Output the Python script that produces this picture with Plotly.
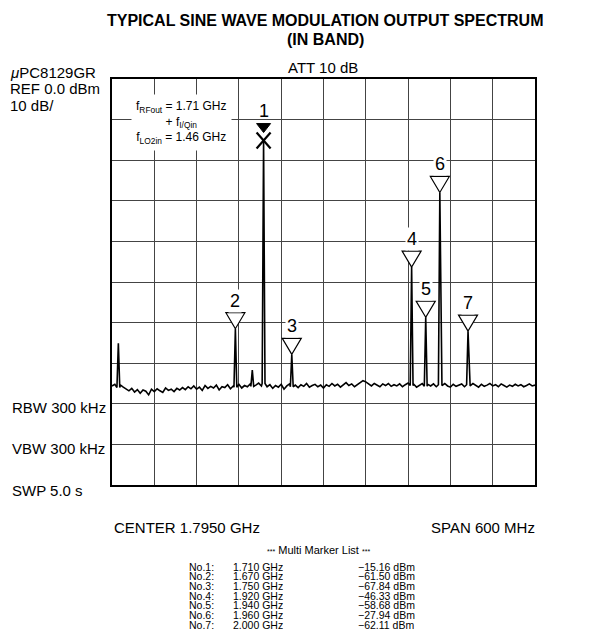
import plotly.graph_objects as go

# ---------------- data ----------------
center_ghz = 1.795
span_ghz = 0.600
ref_dbm = 0.0
db_per_div = 10.0

marker_ids = [1, 2, 3, 4, 5, 6, 7]
marker_freq = [1.710, 1.670, 1.750, 1.920, 1.940, 1.960, 2.000]
marker_level = [-15.16, -61.50, -67.84, -46.33, -58.68, -27.94, -62.11]

extra_peak_freq = [1.504, 1.694]
extra_peak_level = [-65.1, -71.7]

sweep_start = 1.495
sweep_step = 0.004
noise_level = [
    -75.6, -75.2, -76.0, -75.4, -75.9, -76.3,
    -76.8, -76.2, -77.1, -76.5, -77.4, -76.6, -76.9, -77.8, -76.4, -77.0,
    -76.3, -76.8, -77.2, -76.1, -76.7, -76.4, -77.0, -76.2, -76.6,
    -76.0, -76.5, -75.8, -76.3, -75.6, -76.4, -75.9, -76.7, -75.5, -76.2,
    -75.7, -76.1, -75.4, -76.6, -75.8, -76.0, -75.3, -76.3, -75.6, -75.9,
    -75.2, -76.1, -75.5, -75.8, -75.1, -75.7,
    -75.4, -74.9, -75.6, -75.0, -75.8, -75.3, -76.2, -75.5, -75.9, -75.2,
    -76.4, -75.6, -75.1, -75.8, -75.4, -76.0, -75.3, -75.7, -75.0, -75.9,
    -75.5, -75.2, -75.8, -75.4, -76.1,
    -75.3, -75.7, -75.0, -75.6, -75.2, -75.9, -75.4, -74.8, -75.5, -75.1,
    -75.8, -75.3, -74.9, -74.3, -74.6, -75.2, -75.6, -75.0, -75.4, -75.8,
    -75.1, -75.5, -75.0, -75.7, -75.3,
    -75.6, -75.1, -75.8, -75.3, -74.9, -75.5, -75.2, -75.9, -75.4, -75.0,
    -75.7, -75.2, -75.6, -75.1, -75.8, -75.3, -75.5, -75.0, -75.6, -75.9,
    -75.2, -75.7, -75.4, -75.1, -75.8,
    -75.3, -75.6, -75.0, -75.5, -75.9, -75.2, -75.7, -75.4, -75.0, -75.6,
    -75.3, -75.8, -75.1, -75.5, -75.9, -75.4, -75.7, -75.2, -75.6, -75.3,
    -75.8, -75.5, -75.1, -75.6, -75.4,
]

list_freq_text = ["1.710 GHz", "1.670 GHz", "1.750 GHz", "1.920 GHz",
                  "1.940 GHz", "1.960 GHz", "2.000 GHz"]
list_level_text = ["\u221215.16 dBm", "\u221261.50 dBm", "\u221267.84 dBm",
                   "\u221246.33 dBm", "\u221258.68 dBm", "\u221227.94 dBm",
                   "\u221262.11 dBm"]

# ---------------- geometry ----------------
W, H = 610, 629
L, R, T, B = 112, 535, 79, 485
x0 = center_ghz - span_ghz / 2
x1 = center_ghz + span_ghz / 2
y1 = ref_dbm
y0 = ref_dbm - 10 * db_per_div

def dxp(px):
    return px / (R - L) * (x1 - x0)

def dyp(px):
    return px / (B - T) * (y1 - y0)

def xp(px):
    return (px - L) / (R - L)

def yp(py):
    return (B - py) / (B - T)

FONT = "Arial, Liberation Sans, Helvetica, sans-serif"

# ---------------- build trace ----------------
peaks = list(zip(marker_freq, marker_level)) + list(zip(extra_peak_freq, extra_peak_level))
half = 0.002
pts = []
for i, lv in enumerate(noise_level):
    f = sweep_start + i * sweep_step
    if all(abs(f - pf) > half + 0.0005 for pf, _ in peaks):
        pts.append((f, lv))
for pf, pl in peaks:
    idx = int(round((pf - sweep_start) / sweep_step))
    idx = max(0, min(len(noise_level) - 1, idx))
    base = noise_level[idx]
    pts.append((pf - half, base))
    pts.append((pf, pl))
    pts.append((pf + half, base))
pts.sort(key=lambda p: p[0])
tx = [p[0] for p in pts]
ty = [p[1] for p in pts]

fig = go.Figure()
fig.add_trace(go.Scatter(x=tx, y=ty, mode="lines",
                         line=dict(color="black", width=1.6),
                         hoverinfo="skip", showlegend=False))

shapes = []
annotations = []

# markers 2..7 : open triangles with numbers
tri_w, tri_h = 19, 16
for mid, f, lv in zip(marker_ids, marker_freq, marker_level):
    if mid == 1:
        continue
    hw = dxp(tri_w / 2)
    th = dyp(tri_h)
    path = f"M {f},{lv} L {f - hw},{lv + th} L {f + hw},{lv + th} Z"
    shapes.append(dict(type="path", path=path, xref="x", yref="y",
                       fillcolor="white", line=dict(color="black", width=1.2),
                       layer="above"))
    annotations.append(dict(x=f, y=lv + th, xref="x", yref="y", text=str(mid),
                            showarrow=False, yanchor="bottom", xanchor="center",
                            font=dict(family=FONT, size=18, color="black"),
                            bgcolor="white", borderpad=1))

# marker 1 : X at the peak with filled triangle above
f1, l1 = marker_freq[0], marker_level[0]
xh = dxp(7)
xv = dyp(8)
shapes.append(dict(type="line", x0=f1 - xh, x1=f1 + xh, y0=l1 + xv, y1=l1 - xv,
                   xref="x", yref="y", line=dict(color="black", width=2.2), layer="above"))
shapes.append(dict(type="line", x0=f1 - xh, x1=f1 + xh, y0=l1 - xv, y1=l1 + xv,
                   xref="x", yref="y", line=dict(color="black", width=2.2), layer="above"))
tip = l1 + dyp(8)
ttop = tip + dyp(9)
thw = dxp(7)
shapes.append(dict(type="path", path=f"M {f1},{tip} L {f1 - thw},{ttop} L {f1 + thw},{ttop} Z",
                   xref="x", yref="y", fillcolor="black", line=dict(color="black", width=1),
                   layer="above"))
annotations.append(dict(x=f1, y=ttop + dyp(2), xref="x", yref="y", text="1",
                        showarrow=False, yanchor="bottom", xanchor="center",
                        font=dict(family=FONT, size=18, color="black"),
                        bgcolor="rgba(0,0,0,0)", borderpad=0))

# frequency plan box
annotations.append(dict(
    x=xp(181), y=yp(122), xref="paper", yref="paper",
    text=("f<sub>RFout</sub> = 1.71 GHz<br>+ f<sub>I/Qin</sub><br>"
          "f<sub>LO2in</sub> = 1.46 GHz"),
    showarrow=False, xanchor="center", yanchor="middle", align="center",
    font=dict(family=FONT, size=12, color="black"),
    bgcolor="white", borderpad=4))

def txt(text, px, py, size, xanchor="left", bold=False, yanchor="middle", height=None):
    if bold:
        text = f"<b>{text}</b>"
    a = dict(x=xp(px), y=yp(py), xref="paper", yref="paper",
             text=text, showarrow=False, xanchor=xanchor,
             yanchor=yanchor,
             font=dict(family=FONT, size=size, color="black"))
    if height is not None:
        a["height"] = height
        a["borderpad"] = 0
        a["valign"] = "middle"
    annotations.append(a)

# titles
txt("TYPICAL SINE WAVE MODULATION OUTPUT SPECTRUM", 325, 20, 16, "center", True)
txt("(IN BAND)", 325, 40, 16, "center", True)
txt("ATT 10 dB", 323, 67, 15, "center")

# left side labels
txt("<i>\u03bc</i>PC8129GR", 8, 73, 15)
txt("REF 0.0 dBm", 8, 89, 15)
txt("10 dB/", 8, 105, 15)
txt("RBW 300 kHz", 10, 407, 15)
txt("VBW 300 kHz", 10, 448, 15)
txt("SWP 5.0 s", 10, 490, 15)
txt("CENTER 1.7950 GHz", 112, 527, 15)
txt("SPAN 600 MHz", 537, 527, 15, "right")

# marker list
txt("<span style='font-size:7px'>***</span> Multi Marker List "
    "<span style='font-size:7px'>***</span>", 318, 550, 11, "center")
for k in range(len(marker_ids)):
    py = 566 + k * 9.7
    txt(f"No.{marker_ids[k]}:", 188, py, 10.5, height=9)
    txt(list_freq_text[k], 232, py, 10.5, height=9)
    txt(list_level_text[k], 357, py, 10.5, height=9)

fig.update_layout(
    width=W, height=H,
    margin=dict(l=L, r=W - R, t=T, b=H - B, pad=0),
    paper_bgcolor="white", plot_bgcolor="white",
    shapes=shapes, annotations=annotations, showlegend=False,
    xaxis=dict(range=[x0, x1], tick0=x0, dtick=span_ghz / 10, showgrid=True,
               gridcolor="#444444", gridwidth=1, zeroline=False,
               showline=True, mirror=True, linecolor="black", linewidth=2,
               showticklabels=False, ticks=""),
    yaxis=dict(range=[y0, y1], tick0=y0, dtick=db_per_div, showgrid=True,
               gridcolor="#444444", gridwidth=1, zeroline=False,
               showline=True, mirror=True, linecolor="black", linewidth=2,
               showticklabels=False, ticks=""),
)

fig.write_html("out.html")
